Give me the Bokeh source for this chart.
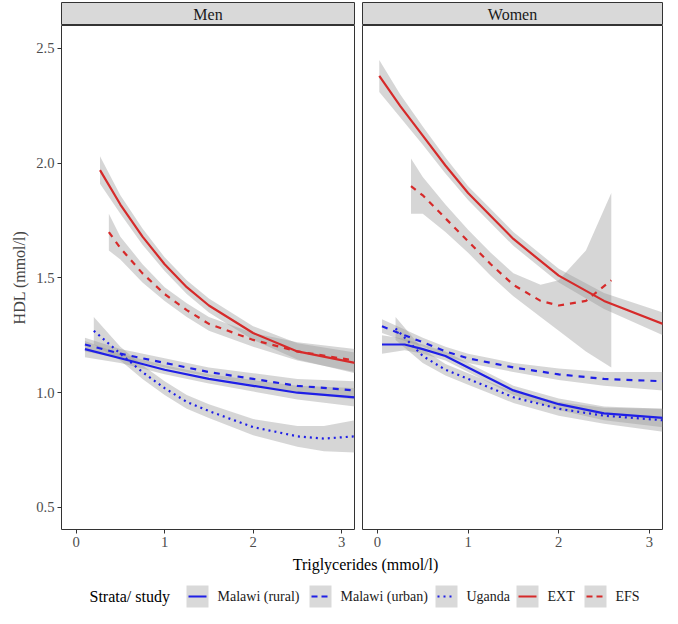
from bokeh.plotting import figure
from bokeh.layouts import column, row
from bokeh.models import Range1d, FixedTicker
from bokeh.core.properties import value
from bokeh.embed import file_html
from bokeh.resources import INLINE

FONT = "Liberation Serif"
BLUE = "#1f1fe6"
RED = "#d62a2a"

# Men
men_x = [0.1, 0.5, 1.0, 1.5, 2.0, 2.5, 3.15]
men_rural = [1.19, 1.15, 1.10, 1.06, 1.03, 1.00, 0.98]
men_rural_se = [0.035, 0.02, 0.02, 0.02, 0.025, 0.03, 0.04]
men_urban = [1.21, 1.17, 1.13, 1.09, 1.06, 1.03, 1.01]
men_urban_se = [0.03, 0.02, 0.02, 0.02, 0.025, 0.03, 0.04]
men_ug_x = [0.2, 0.5, 0.75, 1.0, 1.25, 1.5, 2.0, 2.5, 2.8, 3.15]
men_uganda = [1.27, 1.17, 1.09, 1.02, 0.96, 0.92, 0.85, 0.81, 0.80, 0.81]
men_uganda_se = [0.06, 0.03, 0.03, 0.03, 0.03, 0.03, 0.035, 0.045, 0.055, 0.07]
men_ext_x = [0.27, 0.5, 0.75, 1.0, 1.25, 1.5, 2.0, 2.5, 3.15]
men_ext = [1.97, 1.82, 1.68, 1.56, 1.46, 1.38, 1.26, 1.18, 1.13]
men_ext_se = [0.06, 0.04, 0.035, 0.03, 0.03, 0.03, 0.03, 0.035, 0.045]
men_efs_x = [0.37, 0.5, 0.75, 1.0, 1.25, 1.5, 2.0, 2.5, 3.15]
men_efs = [1.70, 1.63, 1.52, 1.43, 1.36, 1.30, 1.23, 1.18, 1.14]
men_efs_se = [0.08, 0.05, 0.04, 0.03, 0.03, 0.03, 0.03, 0.04, 0.05]

# Women
wom_x = [0.05, 0.3, 0.5, 0.75, 1.0, 1.25, 1.5, 2.0, 2.5, 3.15]
wom_rural = [1.21, 1.21, 1.19, 1.16, 1.11, 1.06, 1.01, 0.95, 0.91, 0.89]
wom_rural_se = [0.04, 0.025, 0.02, 0.02, 0.02, 0.02, 0.02, 0.025, 0.03, 0.04]
wom_urban = [1.29, 1.25, 1.22, 1.18, 1.15, 1.13, 1.11, 1.08, 1.06, 1.05]
wom_urban_se = [0.03, 0.025, 0.02, 0.02, 0.02, 0.02, 0.02, 0.025, 0.03, 0.04]
wom_ug_x = [0.2, 0.5, 0.75, 1.0, 1.25, 1.5, 2.0, 2.5, 3.15]
wom_uganda = [1.28, 1.16, 1.10, 1.06, 1.02, 0.98, 0.93, 0.90, 0.88]
wom_uganda_se = [0.05, 0.03, 0.025, 0.025, 0.025, 0.025, 0.03, 0.035, 0.05]
wom_ext_x = [0.02, 0.25, 0.5, 0.75, 1.0, 1.25, 1.5, 2.0, 2.5, 3.15]
wom_ext = [2.38, 2.25, 2.12, 1.99, 1.87, 1.77, 1.67, 1.51, 1.40, 1.30]
wom_ext_se = [0.07, 0.05, 0.04, 0.035, 0.03, 0.03, 0.03, 0.03, 0.035, 0.05]
wom_efs_x = [0.37, 0.5, 0.75, 1.0, 1.25, 1.5, 1.8, 2.0, 2.3, 2.58]
wom_efs = [1.90, 1.86, 1.76, 1.66, 1.56, 1.47, 1.40, 1.38, 1.40, 1.49]
wom_efs_se = [0.12, 0.08, 0.06, 0.05, 0.05, 0.05, 0.07, 0.11, 0.22, 0.38]

men = [(men_x, men_rural, men_rural_se, BLUE, "solid"),
       (men_x, men_urban, men_urban_se, BLUE, "dashed"),
       (men_ug_x, men_uganda, men_uganda_se, BLUE, "dotted"),
       (men_ext_x, men_ext, men_ext_se, RED, "solid"),
       (men_efs_x, men_efs, men_efs_se, RED, "dashed")]
women = [(wom_x, wom_rural, wom_rural_se, BLUE, "solid"),
         (wom_x, wom_urban, wom_urban_se, BLUE, "dashed"),
         (wom_ug_x, wom_uganda, wom_uganda_se, BLUE, "dotted"),
         (wom_ext_x, wom_ext, wom_ext_se, RED, "solid"),
         (wom_efs_x, wom_efs, wom_efs_se, RED, "dashed")]
labels = ["Malawi (rural)", "Malawi (urban)", "Uganda", "EXT", "EFS"]
legend_x = [186, 309, 435, 516, 584]
key_dash = ["solid", "6 4", "2 4", "solid", "6 4"]


def strip(name, width, left):
    s = figure(width=width, height=25, output_backend="svg", toolbar_location=None,
               x_range=Range1d(0, 1), y_range=Range1d(0, 1),
               min_border_left=left, min_border_right=4, min_border_top=2,
               min_border_bottom=0)
    s.axis.visible = False
    s.grid.visible = False
    s.background_fill_color = "#d9d9d9"
    s.outline_line_color = "#333333"
    s.text(x=[0.5], y=[0.5], text=[name], text_align="center", text_baseline="middle",
           text_font=value(FONT), text_font_size="12pt", text_color="#1a1a1a")
    return s


def panel(series, width, left, show_y):
    p = figure(width=width, height=528, output_backend="svg", toolbar_location=None,
               x_range=Range1d(-0.165, 3.145), y_range=Range1d(0.404, 2.6),
               min_border_left=left, min_border_right=4, min_border_top=0,
               min_border_bottom=24)
    p.xgrid.visible = False
    p.ygrid.visible = False
    p.outline_line_color = "#333333"
    p.xaxis.ticker = FixedTicker(ticks=[0, 1, 2, 3])
    p.yaxis.ticker = FixedTicker(ticks=[0.5, 1.0, 1.5, 2.0, 2.5])
    p.yaxis.major_label_overrides = {0.5: "0.5", 1.0: "1.0", 1.5: "1.5", 2.0: "2.0", 2.5: "2.5"}
    for ax in (p.xaxis, p.yaxis):
        ax.axis_line_color = None
        ax.minor_tick_line_color = None
        ax.major_tick_out = 4
        ax.major_tick_in = 0
        ax.major_tick_line_color = "#333333"
        ax.major_label_text_font = FONT
        ax.major_label_text_font_size = "11pt"
        ax.major_label_text_color = "#4d4d4d"
        ax.major_label_standoff = 3
    if show_y:
        p.yaxis.axis_label = "HDL (mmol/l)"
        p.yaxis.axis_label_text_font = FONT
        p.yaxis.axis_label_text_font_style = "normal"
        p.yaxis.axis_label_text_font_size = "12pt"
    else:
        p.yaxis.visible = False
    for xs, ys, se, col, dash in series:
        lo = [y - s for y, s in zip(ys, se)]
        hi = [y + s for y, s in zip(ys, se)]
        p.varea(x=xs, y1=lo, y2=hi, fill_color="#999999", fill_alpha=0.4)
    for xs, ys, se, col, dash in series:
        p.line(xs, ys, line_color=col, line_width=2.2, line_dash=dash)
    return p


p1 = panel(men, 358, 61, True)
p2 = panel(women, 308, 4, False)
s1 = strip("Men", 358, 61)
s2 = strip("Women", 308, 4)

leg = figure(width=666, height=55, output_backend="svg", toolbar_location=None,
             x_range=Range1d(0, 666), y_range=Range1d(0, 55),
             min_border=0, outline_line_color=None)
leg.axis.visible = False
leg.grid.visible = False
leg.text(x=[365], y=[44], text=["Triglycerides (mmol/l)"], text_align="center",
         text_baseline="middle", text_font=value(FONT), text_font_size="12pt")
leg.text(x=[89], y=[12], text=["Strata/ study"], text_align="left",
         text_baseline="middle", text_font=value(FONT), text_font_size="12pt")
for (xs, ys, se, col, dash), lab, lx, kd in zip(men, labels, legend_x, key_dash):
    leg.rect(x=[lx + 11], y=[12], width=22, height=22, fill_color="#d9d9d9",
             line_color=None)
    leg.segment(x0=[lx + 2], y0=[12], x1=[lx + 20], y1=[12], line_color=col,
                line_width=2.2, line_dash=kd)
    leg.text(x=[lx + 31], y=[12], text=[lab], text_align="left", text_baseline="middle",
             text_font=value(FONT), text_font_size="10.5pt", text_color="#1a1a1a")

layout = column(row(s1, s2, spacing=0), row(p1, p2, spacing=0), leg, spacing=0)
open("out.html", "w").write(file_html(layout, INLINE))
